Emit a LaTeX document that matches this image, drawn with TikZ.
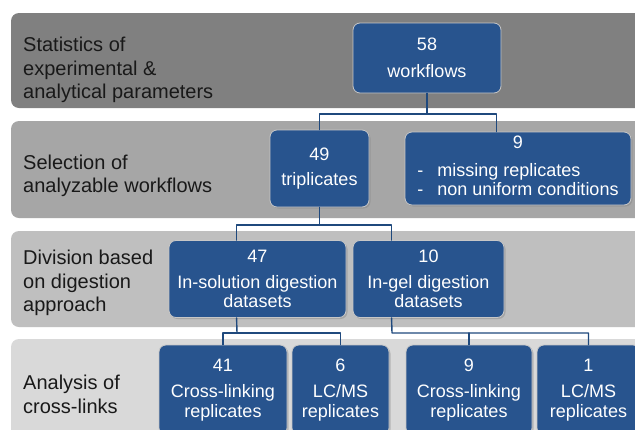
\documentclass[tikz,border=0pt]{standalone}
\usepackage{fontspec}
\setmainfont{Liberation Sans}
\usetikzlibrary{shadows}
\definecolor{boxblue}{RGB}{40,84,142}
\definecolor{linkblue}{RGB}{31,73,125}
\begin{document}
\begin{tikzpicture}[x=1pt, y=-1pt, line join=round, line cap=round,
	band/.style={rounded corners=8pt},
	lab/.style={anchor=west, align=left, inner sep=0pt, text=black!90, font=\fontsize{20}{23.5}\selectfont},
	box/.style={draw=white!78!black, line width=0.8pt, fill=boxblue, rounded corners=7pt, inner sep=0pt,
		text=white, align=center, font=\fontsize{18}{19.5}\selectfont,
		drop shadow={shadow xshift=1.5pt, shadow yshift=-1.5pt, opacity=0.4}},
	link/.style={draw=linkblue, line width=1.4pt}]
	\clip (0,0) rectangle (635,429);
	\fill[white] (0,0) rectangle (635,429);
	% grey bands
	\foreach \ytop/\ybot/\tone in {13/108/50, 121/218/65, 231/327/75, 339/470/85}
		\fill[white!\tone!black, band] (11,\ytop) rectangle (700,\ybot);
	\node[lab] (lstat) at (23,70) {Statistics of\\experimental \&\\analytical parameters};
	\node[lab] (lsel) at (23,176) {Selection of\\analyzable workflows};
	\node[lab] (ldiv) at (23,283) {Division based\\on digestion\\approach};
	\node[lab] (lana) at (23,394.5) {Analysis of\\cross-links};
	% boxes
	\node[box, minimum width=148, minimum height=70] (b58) at (427,58) {58\\[8pt]workflows};
	\node[box, minimum width=99, minimum height=77] (b49) at (319.5,168.5) {49\\[6pt]triplicates};
	\node[box, minimum width=226, minimum height=73] (b9) at (518,168.5)
		{9\\[14pt]\def\arraystretch{0.97}\begin{tabular}{@{}l@{\hspace{14pt}}l@{}}-&missing replicates\\-&non uniform conditions\end{tabular}};
	\node[box, minimum width=177, minimum height=77] (b47) at (257.5,279) {47\\[6pt]In-solution digestion\\datasets};
	\node[box, minimum width=151, minimum height=77] (b10) at (428.5,279) {10\\[6pt]In-gel digestion\\datasets};
	\node[box, minimum width=128, minimum height=90] (b41) at (223,390) {41\\[7pt]Cross-linking\\replicates};
	\node[box, minimum width=97, minimum height=90] (b6) at (340.5,390) {6\\[7pt]LC/MS\\replicates};
	\node[box, minimum width=126, minimum height=90] (b9b) at (469,390) {9\\[7pt]Cross-linking\\replicates};
	\node[box, minimum width=103, minimum height=90] (b1) at (588.5,390) {1\\[7pt]LC/MS\\replicates};
	% connectors
	\coordinate (j1) at (427,114);
	\coordinate (j2) at (319.5,225);
	\coordinate (j3) at (237,333);
	\coordinate (j4) at (392,333);
	\draw[link] (b58.south) -- (j1);
	\draw[link] (b49.north) |- (j1) -| ([xshift=92]b9.north west);
	\draw[link] (b49.south) -- (j2);
	\draw[link] ([xshift=68]b47.north west) |- (j2) -| ([xshift=39]b10.north west);
	\draw[link] ([xshift=68]b47.south west) -- (j3);
	\draw[link] (b41.north) |- (j3) -| (b6.north);
	\draw[link] ([xshift=39]b10.south west) -- (j4) -| (b1.north);
	\draw[link] (b9b.north) -- (b9b.north |- j4);
\end{tikzpicture}
\end{document}
